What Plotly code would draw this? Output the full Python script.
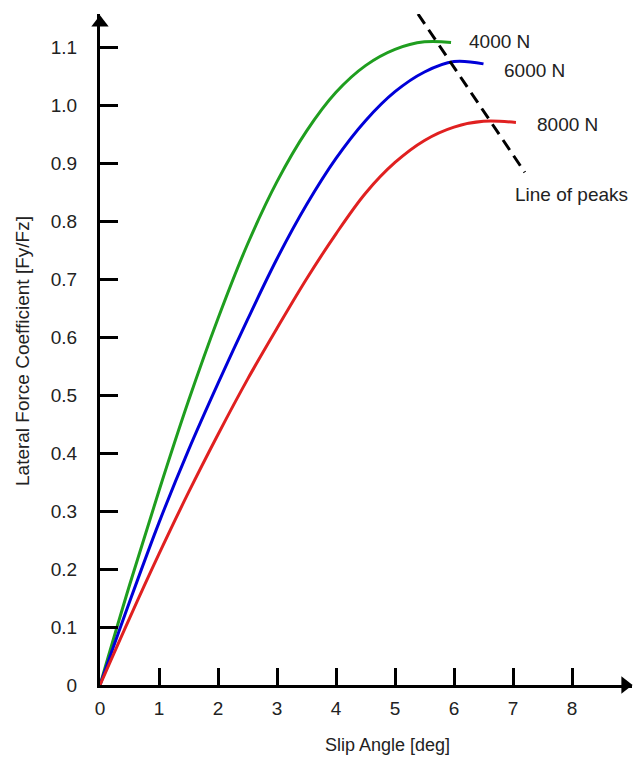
import plotly.graph_objects as go

# Data
slip_green = [0, 0.5, 1, 1.5, 2, 2.5, 3, 3.5, 4, 4.5, 5, 5.5, 5.95]
mu_green = [0, 0.172, 0.335, 0.49, 0.632, 0.76, 0.868, 0.955, 1.022, 1.068, 1.096, 1.109, 1.108]

slip_blue = [0, 0.5, 1, 1.5, 2, 2.5, 3, 3.5, 4, 4.5, 5, 5.5, 6, 6.5]
mu_blue = [0, 0.143, 0.28, 0.405, 0.52, 0.63, 0.735, 0.828, 0.908, 0.973, 1.023, 1.057, 1.075, 1.071]

slip_red = [0, 0.5, 1, 1.5, 2, 2.5, 3, 3.5, 4, 4.5, 5, 5.5, 6, 6.5, 7.05]
mu_red = [0, 0.115, 0.226, 0.332, 0.432, 0.527, 0.615, 0.70, 0.778, 0.848, 0.901, 0.939, 0.962, 0.972, 0.970]

peaks_x = [5.39, 7.2]
peaks_y = [1.157, 0.884]

load_labels = ["4000 N", "6000 N", "8000 N"]
label_pos_x = [6.22, 6.81, 7.37]
label_pos_y = [1.109, 1.06, 0.966]

y_ticks = [0, 0.1, 0.2, 0.3, 0.4, 0.5, 0.6, 0.7, 0.8, 0.9, 1.0, 1.1]
y_tick_text = ["0", "0.1", "0.2", "0.3", "0.4", "0.5", "0.6", "0.7", "0.8", "0.9", "1.0", "1.1"]
x_ticks = [0, 1, 2, 3, 4, 5, 6, 7, 8]

XMAX = 9.017
YMAX = 1.157
FONT = "Liberation Sans, Arial, sans-serif"
TXT = "#222"

fig = go.Figure()
colors = ["#1f9e1f", "#0000d8", "#e02020"]
for xs, ys, c in [(slip_green, mu_green, colors[0]), (slip_blue, mu_blue, colors[1]), (slip_red, mu_red, colors[2])]:
    fig.add_trace(go.Scatter(x=xs, y=ys, mode="lines", line=dict(color=c, width=3, shape="spline", smoothing=1.0),
                             showlegend=False, hoverinfo="skip"))

fig.add_trace(go.Scatter(x=peaks_x, y=peaks_y, mode="lines", line=dict(color="black", width=3, dash="12px,7px"),
                         showlegend=False, hoverinfo="skip", cliponaxis=False))

# axis arrows
fig.add_trace(go.Scatter(x=[0], y=[1.142], mode="markers", marker=dict(symbol="triangle-up", size=15, color="black"),
                         showlegend=False, hoverinfo="skip", cliponaxis=False))
fig.add_trace(go.Scatter(x=[8.9], y=[0], mode="markers", marker=dict(symbol="triangle-right", size=15, color="black"),
                         showlegend=False, hoverinfo="skip", cliponaxis=False))

annotations = []
for t, x, y in zip(load_labels, label_pos_x, label_pos_y):
    annotations.append(dict(x=x, y=y, text=t, showarrow=False, xanchor="left", yanchor="middle",
                            font=dict(size=19, color=TXT, family=FONT)))
annotations.append(dict(x=7.0, y=0.845, text="Line of peaks", showarrow=False, xanchor="left", yanchor="middle",
                        font=dict(size=19, color=TXT, family=FONT)))
annotations.append(dict(x=(387 - 100) / 532, y=-(745 - 685) / 671, xref="paper", yref="paper",
                        text="Slip Angle [deg]", showarrow=False, xanchor="center", yanchor="middle",
                        font=dict(size=18, color=TXT, family=FONT)))
annotations.append(dict(x=(22 - 100) / 532, y=(685 - 351) / 671, xref="paper", yref="paper",
                        text="Lateral Force Coefficient [Fy/Fz]", showarrow=False, textangle=-90,
                        xanchor="center", yanchor="middle", font=dict(size=19, color=TXT, family=FONT)))

fig.update_layout(
    width=633, height=758,
    margin=dict(l=100, r=1, t=14, b=73),
    plot_bgcolor="white", paper_bgcolor="white",
    font=dict(family=FONT, size=19, color=TXT),
    annotations=annotations,
    xaxis=dict(range=[0, XMAX], tickvals=x_ticks, ticks="inside", ticklen=17, tickwidth=3, tickcolor="black",
               showline=True, linecolor="black", linewidth=3, showgrid=False, zeroline=False,
               ticklabelstandoff=4, tickfont=dict(size=19, color=TXT)),
    yaxis=dict(range=[0, YMAX], tickvals=y_ticks, ticktext=y_tick_text, ticks="inside", ticklen=18, tickwidth=3,
               tickcolor="black", showline=True, linecolor="black", linewidth=3, showgrid=False, zeroline=False,
               ticklabelstandoff=16, tickfont=dict(size=19, color=TXT)),
)

fig.write_html("out.html")
